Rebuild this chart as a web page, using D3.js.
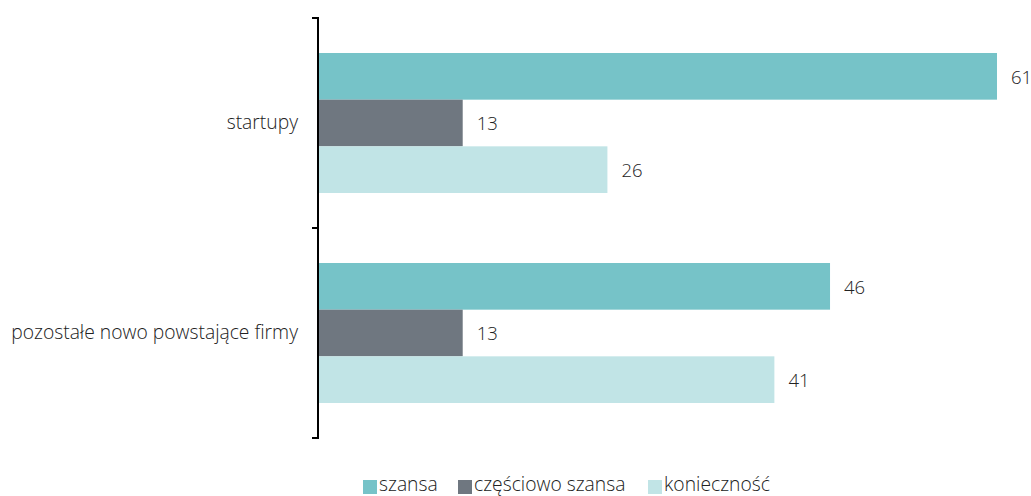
<!DOCTYPE html>
<html>
<head>
<meta charset="utf-8">
<script src="https://cdn.jsdelivr.net/npm/d3@7"></script>
<style>
  html, body { margin: 0; padding: 0; background: #fff; }
  svg text { font-family: "Open Sans", "Noto Sans", sans-serif; font-weight: 300; fill: #222; }
</style>
</head>
<body>
<svg id="chart" width="1031" height="496"></svg>
<script>
// Groups and series
const categories = ["startupy", "pozostałe nowo powstające firmy"];
const seriesNames = ["szansa", "częściowo szansa", "konieczność"];
const szansa = [61, 46];
const czesciowoSzansa = [13, 13];
const koniecznosc = [26, 41];
const seriesValues = [szansa, czesciowoSzansa, koniecznosc];
const colors = ["#76c3c8", "#6f7780", "#c1e4e6"];

const svg = d3.select("#chart");
const axisX = 318, plotTop = 18, plotBottom = 438;
const fontSize = 19.3;
const valueFontSize = 18.5;

const x = d3.scaleLinear().domain([0, 61]).range([axisX, 997]);
const y = d3.scaleBand().domain(categories).range([plotTop, plotBottom]).paddingInner(0).paddingOuter(0);
const ySub = d3.scaleBand().domain(seriesNames).range([35, y.bandwidth() - 35]).padding(0);

const g = svg.append("g");

categories.forEach((cat, ci) => {
  const grp = g.append("g").attr("transform", `translate(0,${y(cat)})`);
  seriesNames.forEach((s, si) => {
    const v = seriesValues[si][ci];
    grp.append("rect")
      .attr("x", x(0))
      .attr("y", ySub(s))
      .attr("width", x(v) - x(0))
      .attr("height", ySub.bandwidth())
      .attr("fill", colors[si]);
    grp.append("text")
      .attr("x", x(v) + 14)
      .attr("y", ySub(s) + ySub.bandwidth() / 2 + 1)
      .attr("dy", "0.35em")
      .attr("font-size", valueFontSize)
      .text(v);
  });
});

// Category axis with bracket ticks at band edges
const axis = svg.append("g");
axis.append("line")
  .attr("x1", axisX).attr("x2", axisX)
  .attr("y1", plotTop).attr("y2", plotBottom)
  .attr("stroke", "#000").attr("stroke-width", 2);
const edges = categories.map(c => y(c)).concat([plotBottom]);
axis.selectAll("line.tick").data(edges).enter().append("line")
  .attr("class", "tick")
  .attr("x1", axisX - 6).attr("x2", axisX + 1)
  .attr("y1", d => d).attr("y2", d => d)
  .attr("stroke", "#000").attr("stroke-width", 2);
axis.selectAll("text").data(categories).enter().append("text")
  .attr("x", 298)
  .attr("y", d => y(d) + y.bandwidth() / 2 - 1)
  .attr("dy", "0.35em")
  .attr("text-anchor", "end")
  .attr("font-size", fontSize)
  .text(d => d);

// Legend
const legendX = [363, 458, 648];
const legend = svg.append("g");
seriesNames.forEach((s, i) => {
  legend.append("rect")
    .attr("x", legendX[i]).attr("y", 480)
    .attr("width", 14).attr("height", 14)
    .attr("fill", colors[i]);
  legend.append("text")
    .attr("x", legendX[i] + 16).attr("y", 491)
    .attr("font-size", fontSize)
    .text(s);
});
</script>
</body>
</html>
